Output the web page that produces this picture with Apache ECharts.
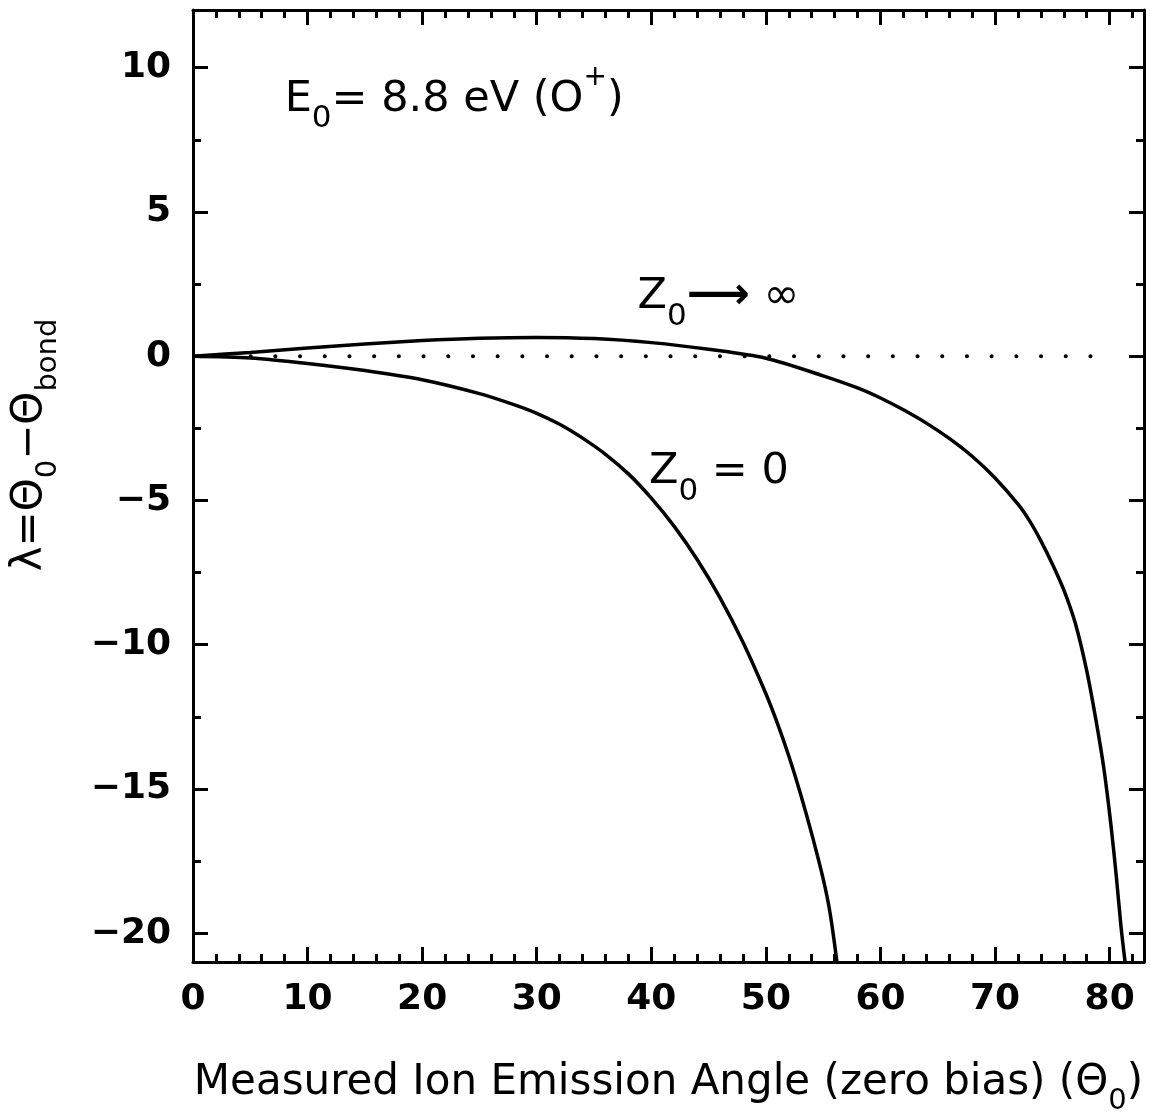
<!DOCTYPE html>
<html>
<head>
<meta charset="utf-8">
<script src="https://cdn.jsdelivr.net/npm/echarts@6/dist/echarts.min.js"></script>
<style>
  html, body { margin: 0; padding: 0; background: #fff; }
  #chart { width: 1150px; height: 1113px; }
</style>
</head>
<body>
<div id="chart"></div>
<script>
// tick positions
const xMajorTicks = [0, 10, 20, 30, 40, 50, 60, 70, 80];
const xMinorTicks = [2, 4, 6, 8, 12, 14, 16, 18, 22, 24, 26, 28, 32, 34, 36, 38, 42, 44, 46, 48,
  52, 54, 56, 58, 62, 64, 66, 68, 72, 74, 76, 78, 82];
const yMajorTicks = [-20, -15, -10, -5, 0, 5, 10];
const yMinorTicks = [-17.5, -12.5, -7.5, -2.5, 2.5, 7.5];

// Z0 -> infinity
const zInfCurve = [
  [0, 0], [5, 0.13], [10, 0.28], [15, 0.42], [20, 0.54], [25, 0.62], [30, 0.65],
  [35, 0.61], [40, 0.47], [45, 0.24], [50, -0.07], [55, -0.68], [58, -1.1], [60, -1.45],
  [62, -1.86], [64, -2.32], [66, -2.85], [68, -3.47], [70, -4.22], [72, -5.13],
  [73, -5.7], [74, -6.4], [75, -7.2], [76, -8.1], [77, -9.25], [78, -10.9],
  [78.8, -12.6], [79.5, -14.3], [80.1, -16.2], [80.6, -18.1], [81, -19.8], [81.35, -21]
];
// Z0 = 0
const zZeroCurve = [
  [0, 0], [5, -0.06], [10, -0.25], [15, -0.5], [20, -0.82], [25, -1.3], [28, -1.68],
  [30, -1.98], [32, -2.36], [34, -2.84], [36, -3.4], [38, -4.08], [40, -4.92],
  [42, -5.9], [44, -7.05], [46, -8.38], [48, -9.92], [50, -11.7], [51, -12.72],
  [52, -13.86], [53, -15.14], [54, -16.56], [55, -18.12], [55.6, -19.3], [56.2, -21]
];
// dotted zero reference
const zeroLine = [[0, 0], [78.6, 0]];

// text annotations [x, y, label]
const notes = [
  [8.0, 8.9, "{m|E}{sub|0}{m|= 8.8 eV (O}{sup|+}{m|)}"],
  [38.8, 2.05, "{m|Z}{sub|0}{arr|⟶}{m| ∞}"],
  [39.8, -4.0, "{m|Z}{sub|0}{m| = 0}"]
];

const FONT = "DejaVu Sans";
const xMin = 0, xMax = 83, yMin = -21, yMax = 12;

const richText = {
  m: { fontFamily: FONT, fontSize: 43, color: "#000" },
  arr: { fontFamily: FONT, fontSize: 44, fontWeight: "bold", color: "#000" },
  sub: { fontFamily: FONT, fontSize: 31, color: "#000", padding: [40, 0, 0, 0] },
  sup: { fontFamily: FONT, fontSize: 28, color: "#000", padding: [0, 0, 44, 0] }
};
const titleRich = {
  t: { fontFamily: FONT, fontSize: 42, color: "#000" },
  sub: { fontFamily: FONT, fontSize: 29, color: "#000", padding: [36, 0, 0, 0] }
};

function fmt(v) {
  return v < 0 ? "\u2212" + Math.abs(v) : String(v);
}

function axis(kind, pos, ticks, len, withLine, withLabel, extra) {
  const isX = kind === "x";
  const a = {
    type: "value",
    position: pos,
    min: isX ? xMin : yMin,
    max: isX ? xMax : yMax,
    splitLine: { show: false },
    axisLine: { show: withLine, onZero: false, lineStyle: { color: "#000", width: 3 } },
    axisTick: {
      show: true, inside: true, length: len, customValues: ticks,
      lineStyle: { color: "#000", width: 3 }
    },
    axisLabel: withLabel ? {
      show: true, customValues: ticks, formatter: fmt,
      fontFamily: FONT, fontSize: 36, fontWeight: "bold", color: "#000",
      margin: isX ? 20 : 22
    } : { show: false }
  };
  return Object.assign(a, extra || {});
}

const chart = echarts.init(document.getElementById("chart"));
chart.setOption({
  backgroundColor: "#fff",
  animation: false,
  grid: { left: 193, right: 6, top: 10, bottom: 151, containLabel: false, outerBoundsMode: "none" },
  xAxis: [
    axis("x", "bottom", xMajorTicks, 15, true, true, {
      name: "{t|Measured Ion Emission Angle (zero bias) (Θ}{sub|0}{t|)}",
      nameLocation: "middle",
      nameGap: 89,
      nameTextStyle: { rich: titleRich }
    }),
    axis("x", "bottom", xMinorTicks, 8, false, false),
    axis("x", "top", xMajorTicks, 15, true, false),
    axis("x", "top", xMinorTicks, 8, false, false)
  ],
  yAxis: [
    axis("y", "left", yMajorTicks, 15, true, true, {
      name: "{t|λ=Θ}{sub|0}{t|−Θ}{sub|bond}",
      nameLocation: "middle",
      nameRotate: 90,
      nameGap: 130,
      nameTextStyle: { rich: titleRich, padding: [0, 0, 0, 82] }
    }),
    axis("y", "left", yMinorTicks, 8, false, false),
    axis("y", "right", yMajorTicks, 15, true, false),
    axis("y", "right", yMinorTicks, 8, false, false)
  ],
  series: [
    {
      name: "zero",
      type: "line",
      data: zeroLine,
      symbol: "none",
      lineStyle: { color: "#000", width: 4, type: [0.1, 24.6], cap: "round", dashOffset: 16.5 },
      silent: true
    },
    {
      name: "Z0 -> inf",
      type: "line",
      data: zInfCurve,
      symbol: "none",
      smooth: 0.3,
      lineStyle: { color: "#000", width: 3.5 }
    },
    {
      name: "Z0 = 0",
      type: "line",
      data: zZeroCurve,
      symbol: "none",
      smooth: 0.3,
      lineStyle: { color: "#000", width: 3.5 }
    },
    {
      name: "notes",
      type: "scatter",
      data: notes.map(n => ({ value: [n[0], n[1]], label: { formatter: n[2] } })),
      symbolSize: 0,
      silent: true,
      itemStyle: { opacity: 1 },
      label: {
        show: true,
        color: "#000",
        position: [0, 0],
        align: "left",
        verticalAlign: "middle",
        rich: richText
      }
    }
  ]
});
</script>
</body>
</html>
